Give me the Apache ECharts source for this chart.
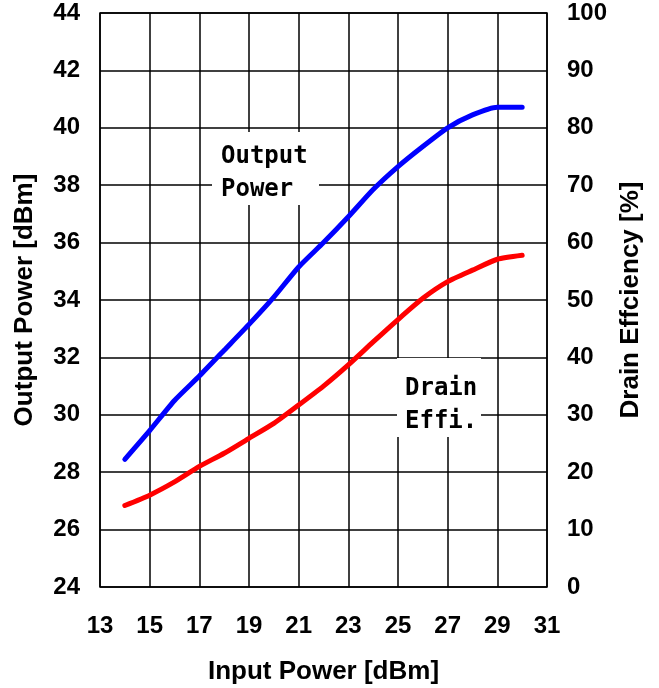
<!DOCTYPE html>
<html>
<head>
<meta charset="utf-8">
<script src="https://cdn.jsdelivr.net/npm/echarts@6/dist/echarts.min.js"></script>
<style>html,body{margin:0;padding:0;background:#fff;}#c{width:659px;height:688px;}</style>
</head>
<body>
<div id="c"></div>
<script>
var inputPower = [14,15,16,17,18,19,20,21,22,23,24,25,26,27,28,29,30];
var outputPower = [28.45,29.45,30.5,31.35,32.25,33.15,34.1,35.15,36.0,36.9,37.85,38.65,39.35,40.0,40.45,40.72,40.72];
var drainEff = [14.2,16.0,18.3,21.0,23.3,25.9,28.5,31.7,35.0,38.7,42.7,46.6,50.3,53.2,55.2,57.1,57.8];
var xTicks = {min:13, max:31, interval:2};
var yLeft = {min:24, max:44, interval:2};
var yRight = {min:0, max:100, interval:10};

var chart = echarts.init(document.getElementById('c'), null, {renderer:'canvas'});
var fontLab = {fontFamily:'Liberation Sans, Arial, sans-serif', fontWeight:'bold', fontSize:24, color:'#000'};
var fontName = {fontFamily:'Liberation Sans, Arial, sans-serif', fontWeight:'bold', fontSize:26, color:'#000'};
var annFont = 'DejaVu Sans Mono, monospace';
function pairs(xs, ys){ return xs.map(function(x,i){return [x, ys[i]];}); }
chart.setOption({
  animation:false,
  backgroundColor:'#fff',
  grid:{left:100, right:112, top:13, bottom:101, show:true, borderColor:'#000', borderWidth:1.5, containLabel:false, outerBoundsMode:'none'},
  xAxis:{type:'value', min:xTicks.min, max:xTicks.max, interval:xTicks.interval,
    name:'Input Power [dBm]', nameLocation:'middle', nameGap:72,
    nameTextStyle:fontName,
    axisLine:{show:false}, axisTick:{show:false},
    axisLabel:Object.assign({margin:27}, fontLab),
    splitLine:{show:true, lineStyle:{color:'#000', width:1.5}}},
  yAxis:[
    {type:'value', min:yLeft.min, max:yLeft.max, interval:yLeft.interval, position:'left',
     name:'Output Power [dBm]', nameLocation:'middle', nameGap:62,
     nameTextStyle:fontName,
     axisLine:{show:false}, axisTick:{show:false},
     axisLabel:Object.assign({margin:20}, fontLab),
     splitLine:{show:true, lineStyle:{color:'#000', width:1.5}}},
    {type:'value', min:yRight.min, max:yRight.max, interval:yRight.interval, position:'right',
     name:'Drain Effciency [%]', nameLocation:'middle', nameGap:70, nameRotate:90,
     nameTextStyle:fontName,
     axisLine:{show:false}, axisTick:{show:false},
     axisLabel:Object.assign({margin:20}, fontLab),
     splitLine:{show:false}}
  ],
  series:[
    {type:'line', name:'Output Power', data:pairs(inputPower, outputPower), yAxisIndex:0,
     showSymbol:false, smooth:0.2, lineStyle:{color:'#0000ff', width:5, cap:'round'}, z:3},
    {type:'line', name:'Drain Effi.', data:pairs(inputPower, drainEff), yAxisIndex:1,
     showSymbol:false, smooth:0.2, lineStyle:{color:'#ff0000', width:5, cap:'round'}, z:3}
  ],
  graphic:[
    {type:'rect', left:212, top:132, shape:{width:107, height:73}, style:{fill:'#fff'}, z:10},
    {type:'text', left:221, top:140, style:{text:'Output\nPower', font:'bold 24px '+annFont, fill:'#000', lineHeight:33}, z:11},
    {type:'rect', left:397, top:358, shape:{width:84, height:79}, style:{fill:'#fff'}, z:10},
    {type:'text', left:405, top:372, style:{text:'Drain\nEffi.', font:'bold 24px '+annFont, fill:'#000', lineHeight:33}, z:11}
  ]
});
</script>
</body>
</html>
